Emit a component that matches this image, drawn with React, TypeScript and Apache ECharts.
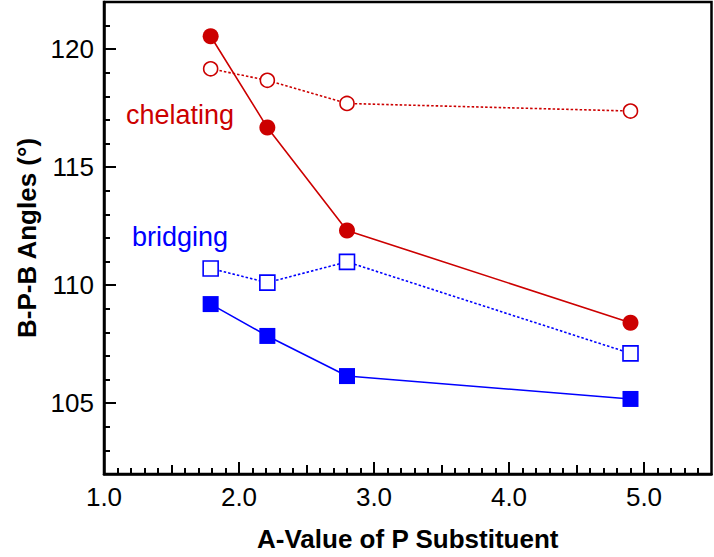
import React, { useEffect, useRef } from "react";
import * as echarts from "echarts";

const xValues = [1.79, 2.21, 2.8, 4.9];
const chelatingFilled = [120.55, 116.68, 112.32, 108.41];
const chelatingOpen = [119.17, 118.68, 117.7, 117.38];
const bridgingOpen = [110.71, 110.11, 110.99, 107.11];
const bridgingFilled = [109.2, 107.85, 106.15, 105.18];

const xMajorTicks = [1, 2, 3, 4, 5];
const xMidTicks = [1.5, 2.5, 3.5, 4.5];
const yMajorTicks = [105, 110, 115, 120];

const RED = "#cc0000";
const BLUE = "#0000ff";
const FONT = "'Liberation Sans', Arial, Helvetica, sans-serif";

const pairs = (ys: number[]) => xValues.map((x, i) => [x, ys[i]]);

export default function App() {
  const ref = useRef<HTMLDivElement>(null);
  useEffect(() => {
    if (!ref.current) return;
    const chart = echarts.init(ref.current, null, { renderer: "svg" });
    const axisLine = { show: true, onZero: false, lineStyle: { color: "#000", width: 2.5 } };
    const hiddenLine = { show: false, onZero: false };
    const tickStyle = { color: "#000", width: 2 };
    chart.setOption({
      animation: false,
      backgroundColor: "#fff",
      grid: {
        left: 104,
        right: 2.5,
        top: 2,
        bottom: 79,
        show: true,
        borderColor: "#000",
        borderWidth: 2.5,
        backgroundColor: "transparent",
      },
      xAxis: [
        {
          type: "value",
          position: "bottom",
          min: 1,
          max: 5.5,
          axisLine,
          splitLine: { show: false },
          axisTick: { show: true, inside: true, length: 12, customValues: xMajorTicks, lineStyle: tickStyle },
          axisLabel: {
            customValues: xMajorTicks,
            formatter: (v: number) => v.toFixed(1),
            color: "#000",
            fontSize: 26,
            fontFamily: FONT,
            margin: 10,
          },
          name: "A-Value of P Substituent",
          nameLocation: "middle",
          nameGap: 52,
          nameTextStyle: { color: "#000", fontSize: 26, fontWeight: "bold", fontFamily: FONT },
        },
        {
          type: "value",
          position: "bottom",
          min: 1,
          max: 5.5,
          axisLine: hiddenLine,
          splitLine: { show: false },
          axisTick: { show: true, inside: true, length: 9, customValues: xMidTicks, lineStyle: tickStyle },
          axisLabel: { show: false },
        },
        {
          type: "value",
          position: "bottom",
          min: 1,
          max: 5.5,
          interval: 0.5,
          axisLine: hiddenLine,
          splitLine: { show: false },
          axisTick: { show: false, inside: true },
          minorTick: { show: true, splitNumber: 5, length: 6, lineStyle: tickStyle },
          axisLabel: { show: false },
        },
      ],
      yAxis: [
        {
          type: "value",
          position: "left",
          min: 102,
          max: 122,
          axisLine,
          splitLine: { show: false },
          axisTick: { show: true, inside: true, length: 12, customValues: yMajorTicks, lineStyle: tickStyle },
          axisLabel: {
            customValues: yMajorTicks,
            color: "#000",
            fontSize: 26,
            fontFamily: FONT,
            margin: 10,
          },
          name: "B-P-B Angles (°)",
          nameLocation: "middle",
          nameGap: 64,
          nameTextStyle: { color: "#000", fontSize: 26, fontWeight: "bold", fontFamily: FONT },
        },
        {
          type: "value",
          position: "left",
          min: 102,
          max: 122,
          interval: 1,
          axisLine: hiddenLine,
          splitLine: { show: false },
          axisTick: { show: true, inside: true, length: 6, lineStyle: tickStyle },
          axisLabel: { show: false },
        },
      ],
      series: [
        {
          type: "line",
          xAxisIndex: 0,
          yAxisIndex: 0,
          data: pairs(chelatingOpen),
          symbol: "circle",
          symbolSize: 14,
          lineStyle: { color: RED, width: 1.6, type: [2.5, 2] },
          itemStyle: { color: "#fff", borderColor: RED, borderWidth: 1.6 },
          z: 3,
        },
        {
          type: "line",
          xAxisIndex: 0,
          yAxisIndex: 0,
          data: pairs(chelatingFilled),
          symbol: "circle",
          symbolSize: 16,
          lineStyle: { color: RED, width: 1.6, type: "solid" },
          itemStyle: { color: RED, borderWidth: 0 },
          z: 4,
        },
        {
          type: "line",
          xAxisIndex: 0,
          yAxisIndex: 0,
          data: pairs(bridgingOpen),
          symbol: "rect",
          symbolSize: 15,
          lineStyle: { color: BLUE, width: 1.6, type: [2.5, 2] },
          itemStyle: { color: "#fff", borderColor: BLUE, borderWidth: 1.6 },
          z: 3,
        },
        {
          type: "line",
          xAxisIndex: 0,
          yAxisIndex: 0,
          data: pairs(bridgingFilled),
          symbol: "rect",
          symbolSize: 16,
          lineStyle: { color: BLUE, width: 1.6, type: "solid" },
          itemStyle: { color: BLUE, borderWidth: 0 },
          z: 4,
        },
      ],
      graphic: [
        {
          type: "text",
          x: 126,
          y: 115,
          style: { text: "chelating", fill: RED, fontSize: 27, fontFamily: FONT, verticalAlign: "middle", align: "left" },
        },
        {
          type: "text",
          x: 132,
          y: 237,
          style: { text: "bridging", fill: BLUE, fontSize: 27, fontFamily: FONT, verticalAlign: "middle", align: "left" },
        },
      ],
    });
    return () => chart.dispose();
  }, []);
  return <div ref={ref} style={{ position: "fixed", left: 0, top: 0, width: 714, height: 557 }} />;
}
